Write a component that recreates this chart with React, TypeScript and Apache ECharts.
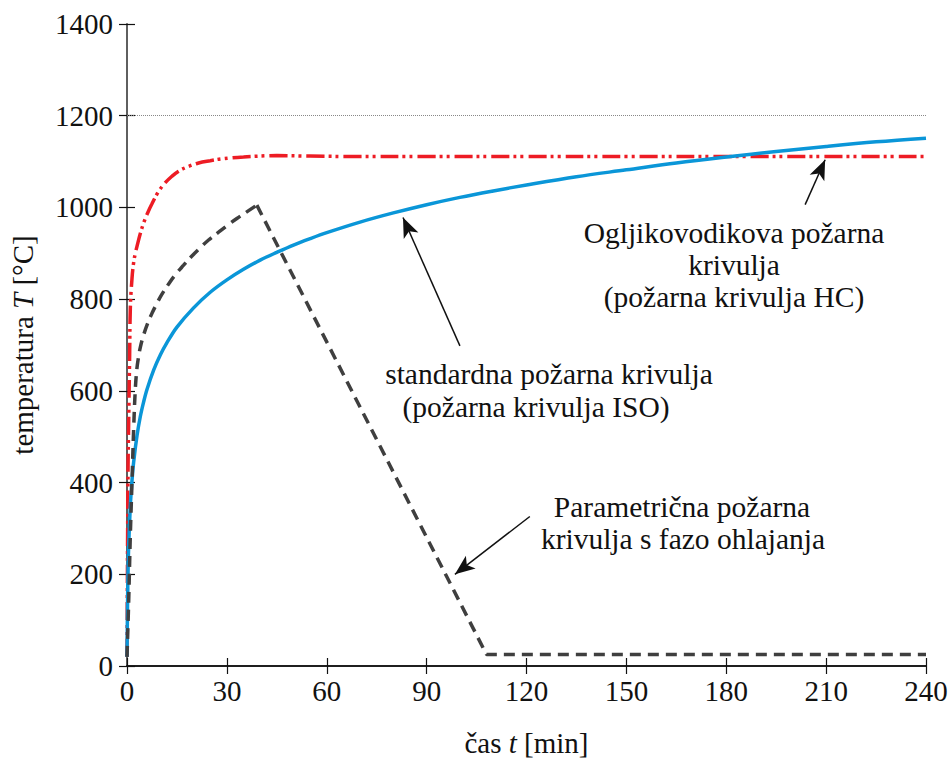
import React, { useEffect, useRef } from "react";
import * as echarts from "echarts";

// time axis [min] and temperatures [°C]
const isoTime = [0, 0.25, 0.5, 1, 1.5, 2, 3, 4, 5, 6, 8, 10, 12, 15, 20, 25, 30, 35, 40, 45, 50, 55, 60, 70, 80, 90, 100, 110, 120, 135, 150, 165, 180, 195, 210, 225, 240];
const isoTemp = [20, 185, 261, 349, 404, 445, 502, 544, 576, 603, 645, 678, 705, 739, 781, 815, 842, 865, 885, 902, 918, 932, 945, 968, 988, 1006, 1022, 1036, 1049, 1067, 1082, 1097, 1110, 1122, 1133, 1143, 1151];

const hcTime = [0, 0.3, 0.5, 0.8, 1, 1.5, 2, 2.5, 3, 4, 5, 6.2, 7.5, 9.5, 11.5, 13.5, 15.5, 18, 21.5, 25, 28.5, 35, 45, 55, 70, 90, 120, 150, 180, 210, 240];
const hcTemp = [20, 420, 530, 680, 780, 845, 880, 900, 915, 943, 966, 988, 1008, 1035, 1054, 1068, 1079, 1088, 1097, 1102, 1106, 1110, 1113, 1112, 1111, 1111, 1111, 1111, 1111, 1111, 1111];

// parametric curve: heating phase, then linear cooling phase
const parHeatTime = [0, 0.5, 1, 1.5, 2, 2.5, 3, 3.5, 4, 5, 6.2, 7.5, 9, 10.5, 12.5, 14.5, 17, 19.5, 22, 24.5, 27.5, 30.5, 33, 35.5, 39];
const parHeatTemp = [20, 140, 285, 401, 517, 604, 650, 675, 695, 722, 747, 769, 791, 811, 833, 853, 874, 894, 912, 929, 946, 963, 976, 988, 1005];
const parCoolTime = [39, 108, 240];
const parCoolTemp = [1005, 25, 25];

const xMin = 0, xMax = 240, xStep = 30;
const yMin = 0, yMax = 1400, yStep = 200;
const refLineTemp = 1200;

// annotation arrows in data coordinates: [tail, tip]
const arrowHC = [[203.7, 1006], [209.7, 1104]];
const arrowISO = [[100, 698], [82.9, 978]];
const arrowPar = [[121, 326], [98.5, 200]];

const labelHC = ["Ogljikovodikova požarna", "krivulja", "(požarna krivulja HC)"];
const labelISO = ["standardna požarna krivulja", "(požarna krivulja ISO)"];
const labelPar = ["Parametrična požarna", "krivulja s fazo ohlajanja"];

const FONT = "Liberation Serif, Times New Roman, serif";

const pairs = (xs: number[], ys: number[]) => xs.map((x, i) => [x, ys[i]]);

export default function App() {
  const ref = useRef<HTMLDivElement>(null);
  useEffect(() => {
    if (!ref.current) return;
    const chart = echarts.init(ref.current, null, { renderer: "svg" });
    const arrowLine = (a: number[][]) => [
      { coord: a[0], symbol: "none" },
      { coord: a[1], symbol: "arrow" },
    ];
    const txt = (s: string, x: number, y: number) => ({
      type: "text",
      x,
      y,
      silent: true,
      style: {
        text: s,
        fontFamily: FONT,
        fontSize: 29.5,
        fill: "#111",
        align: "center",
        verticalAlign: "middle",
      },
    });
    const axisCommon = {
      type: "value",
      axisLine: { show: true, lineStyle: { color: "#111", width: 1.5 } },
      axisTick: { show: true, inside: true, length: 8, lineStyle: { color: "#111", width: 1.2 } },
      splitLine: { show: false },
    };
    const nameRich = {
      n: { fontFamily: FONT, fontSize: 29, color: "#111" },
      i: { fontFamily: FONT, fontSize: 29, fontStyle: "italic", color: "#111" },
    };
    const darkDash = { color: "#3F3F3F", width: 3.5, type: [11, 7] };
    chart.setOption({
      animation: false,
      grid: { left: 127, right: 26, top: 24, bottom: 94, containLabel: false },
      xAxis: [
        {
          ...axisCommon,
          min: xMin,
          max: xMax,
          interval: xStep,
          position: "bottom",
          axisLabel: { fontFamily: FONT, fontSize: 29, color: "#111", margin: 10, formatter: (v: number) => String(v) },
          name: "{n|čas }{i|t}{n| [min]}",
          nameLocation: "middle",
          nameGap: 62,
          nameTextStyle: { rich: nameRich },
        },
        {
          ...axisCommon,
          min: xMin,
          max: xMax,
          interval: xStep,
          position: "top",
          axisLabel: { show: false },
        },
      ],
      yAxis: [
        {
          ...axisCommon,
          min: yMin,
          max: yMax,
          interval: yStep,
          position: "left",
          axisLabel: { fontFamily: FONT, fontSize: 29, color: "#111", margin: 14, formatter: (v: number) => String(v) },
          name: "{n|temperatura }{i|T}{n| [°C]}",
          nameLocation: "middle",
          nameGap: 90,
          nameRotate: 90,
          nameTextStyle: { rich: nameRich },
        },
        {
          ...axisCommon,
          min: yMin,
          max: yMax,
          interval: yStep,
          position: "right",
          axisLine: { show: true, lineStyle: { color: "#666", width: 1.5 } },
          axisLabel: { show: false },
        },
      ],
      series: [
        {
          name: "HC",
          type: "line",
          data: pairs(hcTime, hcTemp),
          showSymbol: false,
          smooth: 0.4,
          lineStyle: { color: "#ED1C24", width: 3.5, type: [18, 4, 3, 4, 3, 5] },
          z: 3,
          markLine: {
            silent: true,
            animation: false,
            symbol: ["none", "none"],
            label: { show: false },
            data: [
              {
                yAxis: refLineTemp,
                symbol: "none",
                lineStyle: { type: "dotted", color: "#888", width: 1 },
              },
            ],
          },
        },
        {
          name: "ISO",
          type: "line",
          data: pairs(isoTime, isoTemp),
          showSymbol: false,
          smooth: 0.35,
          lineStyle: { color: "#0A96D8", width: 3.5 },
          z: 4,
        },
        {
          name: "Param heating",
          type: "line",
          data: pairs(parHeatTime, parHeatTemp),
          showSymbol: false,
          smooth: 0.4,
          lineStyle: darkDash,
          z: 5,
        },
        {
          name: "Param cooling",
          type: "line",
          data: pairs(parCoolTime, parCoolTemp),
          showSymbol: false,
          lineStyle: darkDash,
          z: 5,
          markLine: {
            silent: true,
            animation: false,
            symbol: ["none", "arrow"],
            symbolSize: [12, 20],
            label: { show: false },
            lineStyle: { color: "#111", width: 1.5, type: "solid" },
            itemStyle: { color: "#111" },
            data: [arrowLine(arrowHC), arrowLine(arrowISO), arrowLine(arrowPar)],
          },
        },
      ],
      graphic: [
        txt(labelHC[0], 734, 233),
        txt(labelHC[1], 734, 265),
        txt(labelHC[2], 734, 297),
        txt(labelISO[0], 549, 374),
        txt(labelISO[1], 536, 407),
        txt(labelPar[0], 682, 507),
        txt(labelPar[1], 683, 539),
      ],
    });
    return () => chart.dispose();
  }, []);
  return (
    <div
      ref={ref}
      style={{ position: "absolute", left: 0, top: 0, width: 952, height: 762, background: "#fff" }}
    />
  );
}
